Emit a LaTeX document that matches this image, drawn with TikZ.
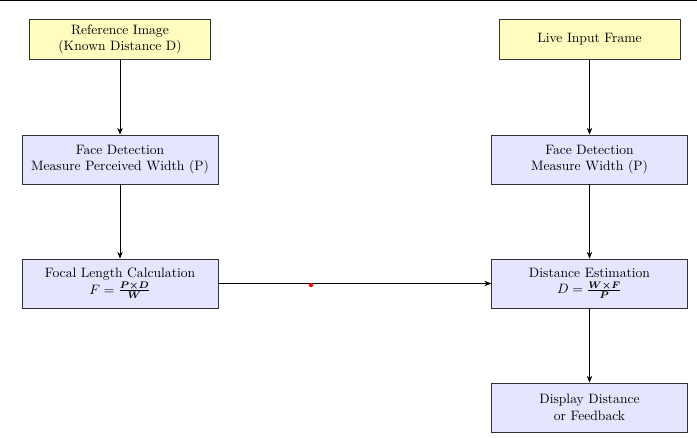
\documentclass[tikz,border=0pt]{standalone}
\usepackage{amsmath}
\usetikzlibrary{arrows.meta}
\begin{document}
\begin{tikzpicture}[x=0.7353pt,y=-0.7353pt,
  base/.style={draw=black!80, semithick, align=center, inner sep=2pt, font=\normalsize},
  ybox/.style={base, fill=yellow!25, minimum width=133pt, minimum height=30pt},
  bbox/.style={base, fill=blue!10, minimum width=144pt, minimum height=36pt},
  conn/.style={-{Stealth[length=5pt,width=4pt]}, semithick}]
\useasboundingbox (0,0) rectangle (697,437);
\draw[line width=1.2pt] (0,0) -- (697,0);
\node[ybox] (ref) at (120,39.5) {Reference Image\\(Known Distance D)};
\node[bbox] (fd1) at (120,159.5) {Face Detection\\Measure Perceived Width (P)};
\node[bbox] (fl) at (120,283.5) {Focal Length Calculation\\$F=\frac{\boldsymbol{P\times D}}{\boldsymbol{W}}$};
\node[ybox] (live) at (589.5,39.5) {Live Input Frame};
\node[bbox] (fd2) at (589.5,159.5) {Face Detection\\Measure Width (P)};
\node[bbox] (de) at (589.5,283.5) {Distance Estimation\\$D=\frac{\boldsymbol{W\times F}}{\boldsymbol{P}}$};
\node[bbox] (disp) at (589.5,407.5) {Display Distance\\or Feedback};
\draw[conn] (ref) -- (fd1);
\draw[conn] (fd1) -- (fl);
\draw[conn] (live) -- (fd2);
\draw[conn] (fd2) -- (de);
\draw[conn] (de) -- (disp);
\draw[conn] (fl) -- (de);
\fill[red] (311,285) circle (2.2);
\end{tikzpicture}
\end{document}
